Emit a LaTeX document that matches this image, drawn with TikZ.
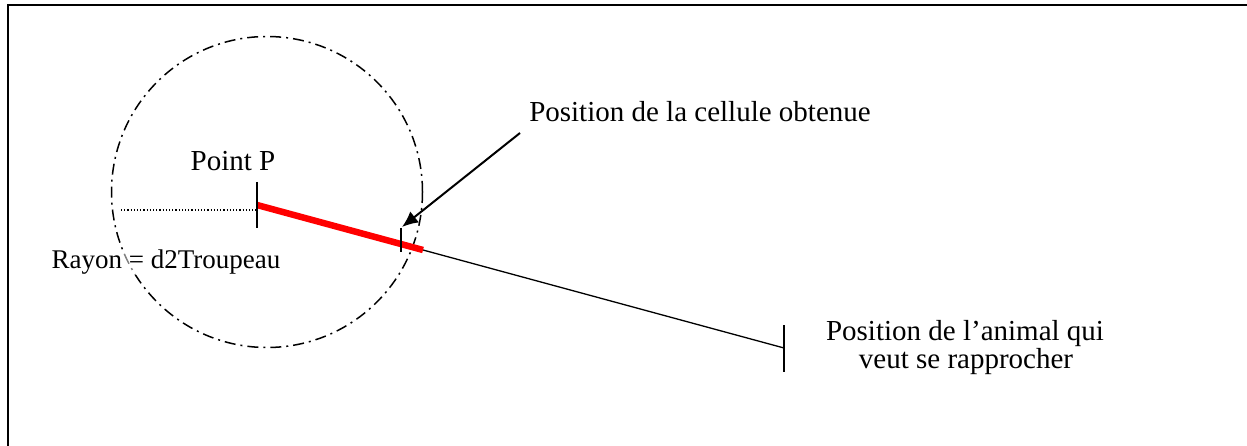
\documentclass[tikz,border=0pt]{standalone}
\usepackage{fontspec}
\setmainfont{Liberation Serif}
\usetikzlibrary{arrows.meta}
\begin{document}
\begin{tikzpicture}[x=1pt,y=-1pt,
  lbl/.style={inner sep=0pt,anchor=base,font=\fontsize{29}{28}\selectfont},
  tickmark/.style={line width=1.4pt,black},
  dashdot/.style={line width=1.5pt,dash pattern=on 11pt off 5pt on 2pt off 5pt}]
\useasboundingbox (0,0) rectangle (1247,446);
\clip (0,0) rectangle (1247,446);
% frame
\draw[line width=2.2pt] (8,460) -- (8,5) -- (1260,5);
% circle
\coordinate (C) at (267,192);
\draw[dashdot] (C) circle[radius=155.5];
% points
\coordinate (P) at (257,205);
\coordinate (Pt) at (257,182);
\coordinate (Pb) at (257,228);
\coordinate (D) at (121,210);
\coordinate (Pd) at (257,210);
\coordinate (R) at (423,250);
\coordinate (A) at (784,348);
\coordinate (At) at (784,325);
\coordinate (Ab) at (784,372);
\coordinate (Kt) at (401,228);
\coordinate (Kb) at (401,252);
% dotted radius
\draw[line width=1.2pt,dotted] (D) -- (Pd);
% lines
\draw[line width=1.3pt] (R) -- (A);
\draw[line width=6.5pt,red] (P) -- (R);
% ticks
\draw[tickmark] (Pt) -- (Pb);
\draw[tickmark] (At) -- (Ab);
\draw[tickmark] (Kt) -- (Kb);
% labels
\node[lbl] (pointP) at (233,171) {Point P};
\node[lbl,font=\fontsize{27}{27}\selectfont,fill=white,fill opacity=0.5,text opacity=1] (rayon) at (166,269) {Rayon = d2Troupeau};
\node[lbl] (cell) at (700,122) {Position de la cellule obtenue};
\node[lbl] (anim1) at (965,340) {Position de l’animal qui};
\node[lbl] (anim2) at (966,368) {veut se rapprocher};
% arrow
\coordinate (arrS) at (520,133);
\coordinate (arrE) at (402,227);
\draw[line width=2pt,-{Latex[length=16pt,width=14pt]}] (arrS) -- (arrE);
\end{tikzpicture}
\end{document}
